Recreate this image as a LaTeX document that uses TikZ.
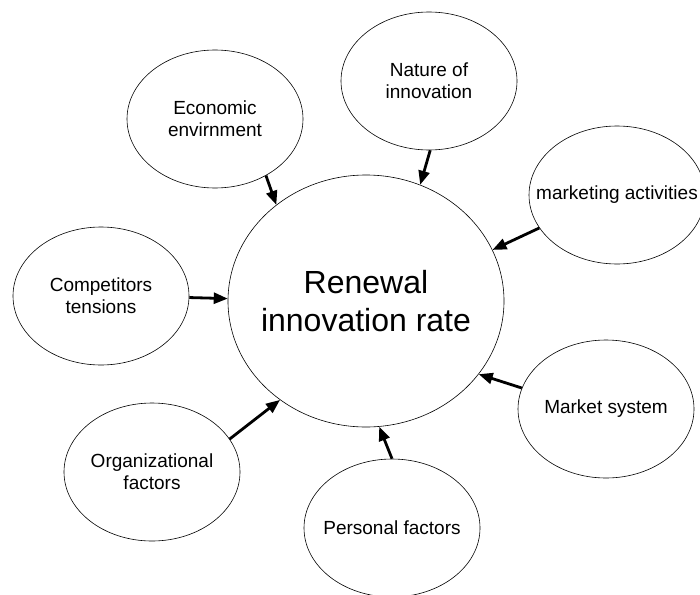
\documentclass[tikz,border=0pt]{standalone}
\usepackage{fontspec}
\setmainfont{Liberation Sans}
\usetikzlibrary{shapes.geometric,arrows.meta}

\begin{document}
\begin{tikzpicture}[x=1pt,y=-1pt,
  factor/.style={ellipse,draw=drawColor,line width=0.6pt,minimum width=176pt,minimum height=138pt,inner sep=0pt},
  factortext/.style={font=\fontsize{19}{22}\selectfont,align=center,inner sep=0pt,text=drawColor},
  push/.style={draw=drawColor,line width=2.8pt,-{Triangle[length=14pt,width=11pt]}}]
\definecolor{fillColor}{RGB}{255,255,255}
\definecolor{drawColor}{RGB}{0,0,0}
\path[use as bounding box,fill=fillColor] (0,0) rectangle (700,594);
\begin{scope}
\path[clip] (0,0) rectangle (700,594);

% centre
\node[ellipse,draw=drawColor,line width=0.6pt,minimum width=276pt,minimum height=252pt,inner sep=0pt,
  label={[font=\fontsize{32}{38}\selectfont,align=center,inner sep=0pt,text=drawColor]center:{Renewal\\innovation rate}}] (rate) at (366,301) {};

% factors
\node[factor,label={[factortext]center:{Economic\\envirnment}}] (econ) at (215,119) {};
\node[factor,label={[factortext]center:{Nature of\\innovation}}] (nature) at (429,81) {};
\node[factor,label={[factortext]center:{marketing activities}}] (mkt) at (617,195) {};
\node[factor,label={[factortext]center:{Competitors\\tensions}}] (comp) at (101,296) {};
\node[factor,label={[factortext]center:{Organizational\\factors}}] (org) at (152,472) {};
\node[factor,label={[factortext]center:{Market system}}] (market) at (606,409) {};
\node[factor,label={[factortext]center:{Personal factors}}] (pers) at (392,528) {};

\draw[push] (econ.-48) -- (rate.133);
\draw[push] (nature.-89) -- (rate.65);
\draw[push] (mkt.-157) -- (rate.22);
\draw[push] (comp.-1) -- (rate.179);
\draw[push] (org.23) -- (rate.229);
\draw[push] (market.166) -- (rate.-33);
\draw[push] (pers.90) -- (rate.-84);
\end{scope}
\end{tikzpicture}
\end{document}
